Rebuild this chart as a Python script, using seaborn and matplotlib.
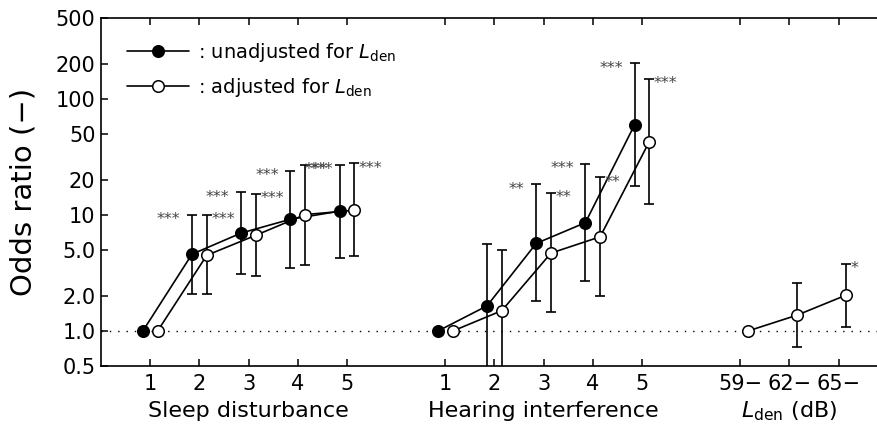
import numpy as np
import pandas as pd
import matplotlib
matplotlib.use("Agg")
import matplotlib.pyplot as plt
import seaborn as sns
from matplotlib.transforms import blended_transform_factory, offset_copy

# ---------------- data ----------------
sleep_levels = ["1", "2", "3", "4", "5"]
hearing_levels = ["1", "2", "3", "4", "5"]
lden_levels = ["59\u2212", "62\u2212", "65\u2212"]

# unadjusted for Lden (filled markers)
sleep_unadj_or = [1.0, 4.6, 7.0, 9.2, 10.8]
sleep_unadj_lo = [np.nan, 2.1, 3.1, 3.5, 4.3]
sleep_unadj_hi = [np.nan, 10.0, 15.7, 24.0, 27.0]
sleep_unadj_sig = ["", "***", "***", "***", "***"]

hearing_unadj_or = [1.0, 1.65, 5.7, 8.6, 60.0]
hearing_unadj_lo = [np.nan, 0.4, 1.8, 2.7, 17.7]
hearing_unadj_hi = [np.nan, 5.6, 18.4, 27.5, 203.0]
hearing_unadj_sig = ["", "", "**", "***", "***"]

# adjusted for Lden (open markers)
sleep_adj_or = [1.0, 4.5, 6.7, 10.1, 11.0]
sleep_adj_lo = [np.nan, 2.1, 3.0, 3.7, 4.4]
sleep_adj_hi = [np.nan, 10.0, 15.3, 27.0, 28.0]
sleep_adj_sig = ["", "***", "***", "***", "***"]

hearing_adj_or = [1.0, 1.5, 4.7, 6.5, 43.0]
hearing_adj_lo = [np.nan, 0.4, 1.45, 2.0, 12.4]
hearing_adj_hi = [np.nan, 5.0, 15.5, 21.2, 150.0]
hearing_adj_sig = ["", "", "**", "**", "***"]

lden_adj_or = [1.0, 1.37, 2.04]
lden_adj_lo = [np.nan, 0.73, 1.08]
lden_adj_hi = [np.nan, 2.6, 3.8]
lden_adj_sig = ["", "", "*"]

group_names = ["Sleep disturbance", "Hearing interference", r"$\mathit{L}_{\mathrm{den}}$ (dB)"]
y_ticks = [0.5, 1, 2, 5, 10, 20, 50, 100, 200, 500]
y_tick_labels = ["0.5", "1.0", "2.0", "5.0", "10", "20", "50", "100", "200", "500"]
legend_labels = [r": unadjusted for $\mathit{L}_{\mathrm{den}}$",
                 r": adjusted for $\mathit{L}_{\mathrm{den}}$"]

# ---------------- style ----------------
sns.set_theme(style="ticks")
plt.rcParams["font.family"] = ["DejaVu Sans"]
plt.rcParams["mathtext.fontset"] = "dejavusans"
for k in ["text.color", "axes.labelcolor", "xtick.color", "ytick.color", "axes.edgecolor"]:
    plt.rcParams[k] = "black"

fig = plt.figure(figsize=(8.78, 4.34), dpi=100)
ax = fig.add_axes([101 / 878, (434 - 366) / 434, 777 / 878, 348 / 434])

group_start = [1, 7, 13]
off = 0.15
lw = 1.2

def positions(start, n):
    return np.arange(start, start + n, dtype=float)

series = [
    # (start, or, lo, hi, sig, filled)
    (group_start[0], sleep_unadj_or, sleep_unadj_lo, sleep_unadj_hi, sleep_unadj_sig, True),
    (group_start[1], hearing_unadj_or, hearing_unadj_lo, hearing_unadj_hi, hearing_unadj_sig, True),
    (group_start[0], sleep_adj_or, sleep_adj_lo, sleep_adj_hi, sleep_adj_sig, False),
    (group_start[1], hearing_adj_or, hearing_adj_lo, hearing_adj_hi, hearing_adj_sig, False),
    (group_start[2], lden_adj_or, lden_adj_lo, lden_adj_hi, lden_adj_sig, False),
]

ax.axhline(1.0, color="black", lw=1.0, ls=(0, (1, 5)), zorder=1)

labelled = {True: False, False: False}
for start, orv, lo, hi, sig, filled in series:
    orv = np.asarray(orv, float)
    lo = np.asarray(lo, float)
    hi = np.asarray(hi, float)
    x = positions(start, len(orv)) + (-off if filled else off)
    df = pd.DataFrame({"x": x, "or": orv})
    lab = legend_labels[0 if filled else 1] if not labelled[filled] else "_nolegend_"
    labelled[filled] = True
    sns.lineplot(data=df, x="x", y="or", ax=ax, color="black", lw=lw,
                 marker="o", markersize=8.3, markeredgewidth=1.1,
                 markerfacecolor="black" if filled else "white",
                 markeredgecolor="black", label=lab, zorder=4, sort=False)
    m = ~np.isnan(lo)
    ax.errorbar(x[m], orv[m], yerr=[orv[m] - lo[m], hi[m] - orv[m]], fmt="none",
                ecolor="black", elinewidth=lw, capsize=3.8, capthick=lw, zorder=3)
    for xi, hv, s in zip(x, hi, sig):
        if not s:
            continue
        if filled:
            tr = offset_copy(ax.transData, fig=fig, x=-8.3, y=-3.5, units="points")
            ax.text(xi, hv, s, transform=tr, ha="right", va="center",
                    fontsize=11.5, color="#444444", zorder=5)
        else:
            tr = offset_copy(ax.transData, fig=fig, x=3.2, y=-3.5, units="points")
            ax.text(xi, hv, s, transform=tr, ha="left", va="center",
                    fontsize=11.5, color="#444444", zorder=5)

# axes
ax.set_yscale("log")
ax.set_ylim(0.5, 500)
ax.set_yticks(y_ticks)
ax.set_yticklabels(y_tick_labels)
ax.yaxis.set_minor_locator(matplotlib.ticker.NullLocator())
xt = np.concatenate([positions(group_start[0], len(sleep_levels)),
                     positions(group_start[1], len(hearing_levels)),
                     positions(group_start[2], len(lden_levels))])
ax.set_xticks(xt)
ax.set_xticklabels(sleep_levels + hearing_levels + lden_levels)
ax.set_xlim(0, 15.8)
ax.set_xlabel("")
ax.set_ylabel("Odds ratio (\u2212)", fontsize=21, labelpad=13)

for sp in ["left", "bottom", "top"]:
    ax.spines[sp].set_visible(True)
    ax.spines[sp].set_linewidth(1.2)
    ax.spines[sp].set_color("black")
ax.spines["right"].set_visible(False)
ax.tick_params(axis="both", which="major", direction="in", length=5, width=1.1,
               colors="black", labelsize=15, top=True, right=False)
ax.tick_params(axis="x", pad=6)
ax.tick_params(axis="y", pad=4)

# group labels
tb = blended_transform_factory(ax.transData, ax.transAxes)
centers = [group_start[0] + 2, group_start[1] + 2, group_start[2] + 1]
for c, name in zip(centers, group_names):
    ax.text(c, -0.13, name, transform=tb, ha="center", va="center", fontsize=16)

leg = ax.legend(loc="upper left", bbox_to_anchor=(0.033, 0.935), frameon=False,
                fontsize=14, handlelength=3.2, handletextpad=0.45,
                labelspacing=0.62, borderaxespad=0, borderpad=0)

fig.savefig("out.png", dpi=100)
